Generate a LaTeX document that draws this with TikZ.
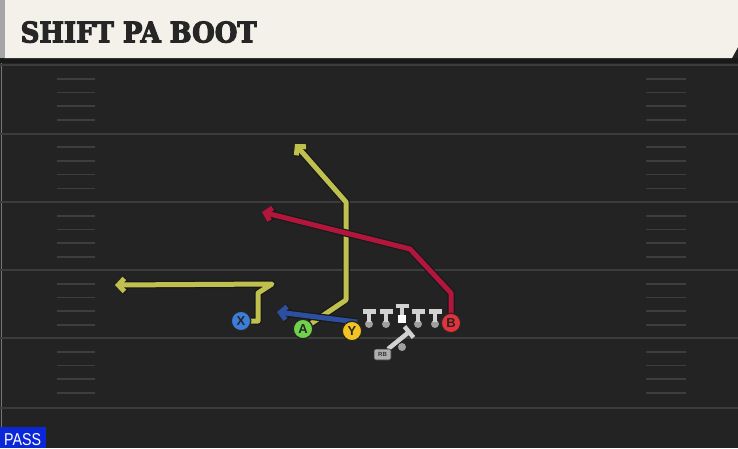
\documentclass[tikz,border=0pt]{standalone}
\usepackage{fontspec}
\usepackage{graphicx}
\usetikzlibrary{arrows.meta}
\setsansfont{Liberation Sans}
\newfontfamily\slabfont{DejaVu Serif}[BoldFeatures={FakeBold=4}]

\definecolor{turf}{HTML}{232323}
\definecolor{yardline}{HTML}{3C3C3C}
\definecolor{hashline}{HTML}{3E3E3E}
\definecolor{banner}{HTML}{F4F1EA}
\definecolor{routeyellow}{HTML}{BFC04E}
\definecolor{routered}{HTML}{B3163D}
\definecolor{routeblue}{HTML}{2D4FA0}
\definecolor{xblue}{HTML}{3B7DD8}
\definecolor{agreen}{HTML}{6FD24A}
\definecolor{yyellow}{HTML}{F3C420}
\definecolor{bred}{HTML}{E2323C}
\definecolor{olgray}{HTML}{D2D2D2}
\definecolor{dotgray}{HTML}{A0A0A0}
\definecolor{passblue}{HTML}{0A28D8}

\pgfdeclarelayer{field}
\pgfdeclarelayer{routes}
\pgfsetlayers{field,routes,main}

\tikzset{
  player/.style={circle,draw=black!85,line width=1.3pt,minimum size=19.5pt,inner sep=0pt,
    font=\sffamily\bfseries\fontsize{13}{13}\selectfont,text=black!85},
  route/.style={line width=5pt,line join=round,
    preaction={draw=black!90,line width=7.5pt,line join=round},
    -{Straight Barb[length=6pt,width=13pt]}},
  hash/.style={hashline,line width=1.6pt}
}

\begin{document}
\begin{tikzpicture}[x=1pt,y=-1pt]
\useasboundingbox (0,0) rectangle (738,448);

\begin{pgfonlayer}{field}
\fill[turf] (0,0) rectangle (738,448);
\draw[yardline!70,line width=1pt] (1,62) -- (1,448);
% yard lines and hashes
\foreach \y in {65,133.5,202,270,338,408}{
  \draw[yardline,line width=2pt] (0,\y) -- (738,\y);
}
\foreach \y in {65,133.5,202,270,338}{
  \foreach \k in {1,...,4}{
    \draw[hash] (57,\y+\k*13.7) -- (95,\y+\k*13.7);
    \draw[hash] (646,\y+\k*13.7) -- (686,\y+\k*13.7);
  }
}
\end{pgfonlayer}

% header
\fill[black!90] (0,58) rectangle (738,63);
\fill[banner] (4,0) -- (738,0) -- (738,47) -- (732,58) -- (4,58) -- cycle;
\fill[gray!70] (0,0) rectangle (5,58);
\node[anchor=south west,inner sep=0pt,text=black!85] (title) at (20.5,43)
  {\resizebox{236pt}{21pt}{\slabfont\bfseries SHIFT PA BOOT}};

% players
\node[player,fill=xblue] (X) at (241,321) {X};
\node[player,fill=agreen] (A) at (303,329) {A};
\node[player,fill=yyellow] (Y) at (352,331) {Y};
\node[player,fill=bred] (B) at (451,323) {B};

% line
\foreach \x in {369,386,418,435}{
  \fill[dotgray] (\x,324) circle (4pt);
  \fill[olgray] (\x-6.5,309) rectangle (\x+6.5,313.5);
  \fill[olgray] (\x-2,309) rectangle (\x+2,322);
}
\fill[olgray] (395.5,304) rectangle (408.5,308);
\fill[olgray] (400,304) rectangle (404,315);
\fill[white] (398,314.5) rectangle (406,322.5);

% running back
\fill[dotgray] (402,347) circle (4pt);
\draw[olgray,line width=4.5pt] (409,332) -- (388,349);
\draw[olgray,line width=4.5pt] (404.5,326.5) -- (413.5,337.5);
\node[fill=dotgray!85,draw=black!80,line width=0.6pt,rounded corners=2pt,
  minimum width=17pt,minimum height=11pt,inner sep=0pt,
  font=\sffamily\bfseries\fontsize{6}{6}\selectfont,text=black!80] (rb) at (382.5,354.5) {RB};

% routes
\begin{pgfonlayer}{routes}
\coordinate (xa) at (258,321);
\coordinate (xb) at (258,293);
\coordinate (xc) at (272,284);
\coordinate (xd) at (115,285);
\draw[route,routeyellow] (X.center) -- (xa) -- (xb) -- (xc) -- (xd);

\coordinate (aa) at (346,300);
\coordinate (ab) at (346,202);
\coordinate (ac) at (295,144);
\draw[route,routeyellow] (A.center) -- (aa) -- (ab) -- (ac);

\coordinate (ya) at (277,312);
\draw[route,routeblue] (Y.60) -- (ya);

\coordinate (ba) at (451,293);
\coordinate (bb) at (410,249);
\coordinate (bc) at (262,212);
\draw[route,routered] (B.center) -- (ba) -- (bb) -- (bc);
\end{pgfonlayer}

% play type
\fill[passblue] (0,427) rectangle (46,448);
\node[anchor=south west,inner sep=0pt,text=white] (pass) at (4,445.5)
  {\resizebox{37pt}{12pt}{\sffamily PASS}};
\end{tikzpicture}
\end{document}
